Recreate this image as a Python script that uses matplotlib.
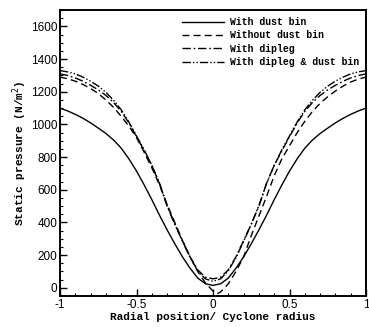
import matplotlib
matplotlib.use("Agg")
import matplotlib.pyplot as plt
from matplotlib.ticker import MultipleLocator

# Data
x_half = [0.0, 0.05, 0.1, 0.15, 0.2, 0.25, 0.3, 0.35, 0.4, 0.45, 0.5,
          0.55, 0.6, 0.65, 0.7, 0.75, 0.8, 0.85, 0.9, 0.95, 1.0]

with_dust_bin_half = [15, 25, 60, 120, 190, 270, 355, 445, 540, 630, 715,
                      790, 855, 905, 945, 978, 1010, 1038, 1062, 1083, 1100]

with_dipleg_half = [55, 65, 110, 190, 290, 390, 500, 640, 750, 840, 925,
                    1010, 1080, 1135, 1178, 1212, 1240, 1265, 1285, 1300, 1310]

dipleg_dustbin_half = [40, 55, 105, 185, 285, 390, 505, 640, 750, 845, 930,
                       1015, 1090, 1148, 1197, 1235, 1265, 1290, 1310, 1322, 1330]

without_x = [-1.0, -0.95, -0.9, -0.85, -0.8, -0.75, -0.7, -0.65, -0.6, -0.55,
             -0.5, -0.45, -0.4, -0.35, -0.3, -0.25, -0.2, -0.15, -0.1, -0.05,
             0.0, 0.03, 0.05, 0.1, 0.15, 0.2, 0.25, 0.3, 0.35, 0.4, 0.45,
             0.5, 0.55, 0.6, 0.65, 0.7, 0.75, 0.8, 0.85, 0.9, 0.95, 1.0]
without_dust_bin = [1290, 1280, 1265, 1245, 1220, 1190, 1150, 1105, 1050, 990,
                    920, 830, 735, 630, 510, 400, 290, 190, 100, 30,
                    -20, -35, -25, 25, 100, 190, 320, 440, 560, 687, 790,
                    870, 950, 1020, 1080, 1130, 1170, 1205, 1235, 1260, 1278, 1290]

labels = ["With dust bin", "Without dust bin", "With dipleg", "With dipleg & dust bin"]

def mirror(xs, ys):
    xx = [-v for v in xs[::-1]] + xs[1:]
    yy = ys[::-1] + ys[1:]
    return xx, yy

fig = plt.figure(figsize=(3.69, 3.27), dpi=100)
ax = fig.add_axes([0.1626, 0.0948, 0.8294, 0.8742])

xs, ys = mirror(x_half, with_dust_bin_half)
ax.plot(xs, ys, color="black", lw=1.0, ls="-", label=labels[0])
ax.plot(without_x, without_dust_bin, color="black", lw=1.0, ls=(0, (5, 3)), label=labels[1])
xs, ys = mirror(x_half, with_dipleg_half)
ax.plot(xs, ys, color="black", lw=1.0, ls=(0, (6, 2, 1.2, 2)), label=labels[2])
xs, ys = mirror(x_half, dipleg_dustbin_half)
ax.plot(xs, ys, color="black", lw=1.0, ls=(0, (6, 1.5, 1, 1.5, 1, 1.5)), label=labels[3])

ax.set_xlim(-1, 1)
ax.set_ylim(-50, 1700)
ax.xaxis.set_major_locator(MultipleLocator(0.5))
ax.xaxis.set_minor_locator(MultipleLocator(0.1))
ax.yaxis.set_major_locator(MultipleLocator(200))
ax.yaxis.set_minor_locator(MultipleLocator(50))
ax.set_xticks([-1, -0.5, 0, 0.5, 1])
ax.set_xticklabels(["-1", "-0.5", "0", "0.5", "1"])
ax.tick_params(which="both", direction="in", top=False, right=False)
ax.tick_params(which="major", length=5, width=1.0, labelsize=8.5, pad=2)
ax.tick_params(which="minor", length=2.5, width=0.8)
for lab in ax.get_xticklabels() + ax.get_yticklabels():
    lab.set_fontfamily("Liberation Sans")
for sp in ax.spines.values():
    sp.set_linewidth(1.4)

mono = {"family": "Liberation Mono", "weight": "bold", "size": 8}
ax.set_xlabel("Radial position/ Cyclone radius", fontdict=mono, labelpad=1)
ax.set_ylabel("Static pressure (N/m$^2$)", fontdict=mono, labelpad=1)

leg = ax.legend(loc="upper right", bbox_to_anchor=(1.0, 1.0), frameon=False,
                prop={"family": "Liberation Mono", "weight": "bold", "size": 7},
                handlelength=4.3, handletextpad=0.6, labelspacing=0.35,
                borderaxespad=0.3)

fig.savefig("out.png", dpi=100)
